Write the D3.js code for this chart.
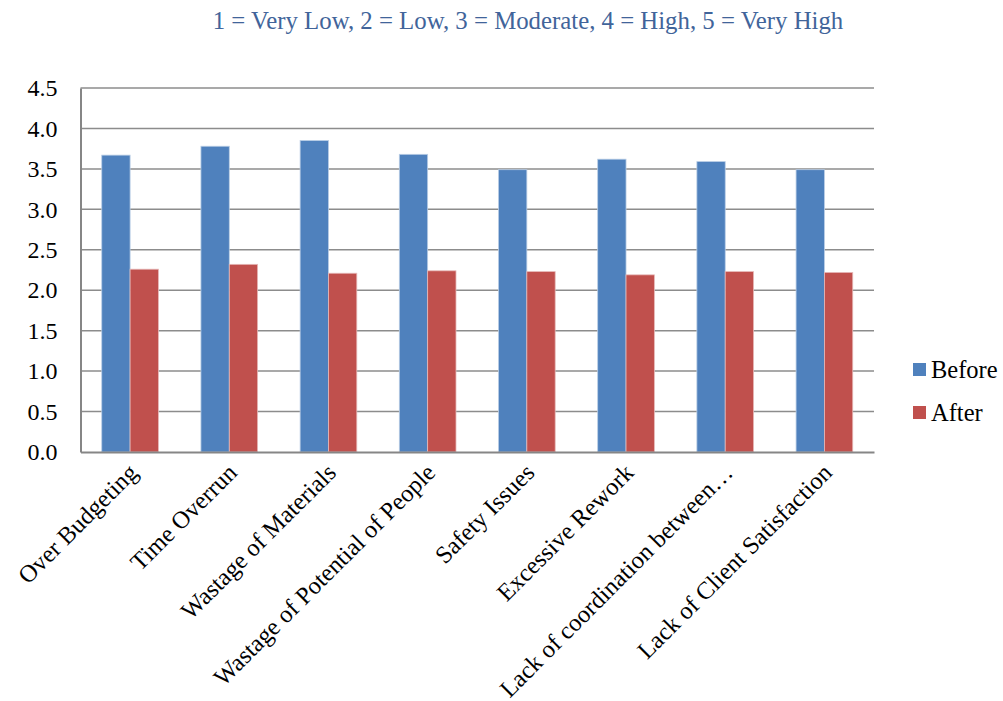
<!DOCTYPE html>
<html>
<head>
<meta charset="utf-8">
<script src="https://cdn.jsdelivr.net/npm/d3@7"></script>
<style>
  html, body { margin: 0; padding: 0; background: #fff; }
  svg { display: block; }
  svg text { font-family: "Liberation Serif", "Times New Roman", serif; }
</style>
</head>
<body>
<svg id="chart" width="1003" height="701"></svg>
<script>
// Problem categories and mean ratings before/after
const categories = [
  "Over Budgeting",
  "Time Overrun",
  "Wastage of Materials",
  "Wastage of Potential of People",
  "Safety Issues",
  "Excessive Rework",
  "Lack of coordination between\u2026",
  "Lack of Client Satisfaction"
];
const seriesNames = ["Before", "After"];
const beforeValues = [3.67, 3.78, 3.85, 3.68, 3.49, 3.62, 3.59, 3.49];
const afterValues  = [2.26, 2.32, 2.21, 2.24, 2.23, 2.19, 2.23, 2.22];
const yTicks = [0, 0.5, 1, 1.5, 2, 2.5, 3, 3.5, 4, 4.5];
const titleText = "1 = Very Low, 2 = Low, 3 = Moderate, 4 = High, 5 = Very High";

const colors = { Before: "#4F81BD", After: "#C0504D" };
const outline = { Before: "#B9CDE5", After: "#E6B9B8" };
const serif = "'Liberation Serif', 'Times New Roman', serif";

const svg = d3.select("#chart");
const plot = { left: 80.5, right: 874, top: 88, bottom: 452 };

const x0 = d3.scaleBand()
  .domain(categories)
  .range([plot.left, plot.right])
  .paddingInner(0)
  .paddingOuter(0);

// 150% gap width: each bar is 1/3.5 of the category band
const barW = x0.bandwidth() / 3.5;
const x1 = d3.scaleBand()
  .domain(seriesNames)
  .range([0, barW * 2]);

const y = d3.scaleLinear().domain([0, 4.5]).range([plot.bottom, plot.top]);

// Title
svg.append("text")
  .attr("x", 528)
  .attr("y", 29)
  .attr("text-anchor", "middle")
  .attr("fill", "#41649A")
  .style("font-family", serif)
  .style("font-size", "24.8px")
  .text(titleText);

// Horizontal gridlines
svg.append("g")
  .selectAll("line")
  .data(yTicks.filter(t => t > 0))
  .join("line")
  .attr("x1", plot.left)
  .attr("x2", plot.right)
  .attr("y1", d => y(d))
  .attr("y2", d => y(d))
  .attr("stroke", "#8C8C8C")
  .attr("stroke-width", 1.5);

// Bars
const rows = categories.map((c, i) => ({ cat: c, Before: beforeValues[i], After: afterValues[i] }));
const groups = svg.append("g")
  .selectAll("g")
  .data(rows)
  .join("g")
  .attr("transform", d => `translate(${x0(d.cat) + (x0.bandwidth() - barW * 2) / 2},0)`);

groups.selectAll("rect")
  .data(d => seriesNames.map(s => ({ s, v: d[s] })))
  .join("rect")
  .attr("x", d => x1(d.s))
  .attr("width", x1.bandwidth())
  .attr("y", d => y(d.v))
  .attr("height", d => y(0) - y(d.v))
  .attr("fill", d => colors[d.s])
  .attr("stroke", d => outline[d.s])
  .attr("stroke-width", 0.8);

// Y axis
const yAxis = d3.axisLeft(y)
  .tickValues(yTicks)
  .tickFormat(d3.format(".1f"))
  .tickSize(0)
  .tickPadding(23);
const yg = svg.append("g")
  .attr("transform", `translate(${plot.left},0)`)
  .call(yAxis);
yg.select(".domain").attr("stroke", "#868686").attr("stroke-width", 2);
yg.selectAll(".tick text")
  .attr("fill", "#000")
  .style("font-family", serif)
  .style("font-size", "24px");

// X axis
const xAxis = d3.axisBottom(x0).tickSize(0).tickSizeOuter(0).tickFormat("");
const xg = svg.append("g")
  .attr("transform", `translate(0,${plot.bottom})`)
  .call(xAxis);
xg.select(".domain").attr("stroke", "#868686").attr("stroke-width", 2);
xg.selectAll(".tick").remove();

// Rotated category labels
svg.append("g")
  .selectAll("text")
  .data(categories)
  .join("text")
  .attr("text-anchor", "end")
  .attr("transform", d => `translate(${x0(d) + x0.bandwidth() / 2 + 3},${plot.bottom + 16}) rotate(-45)`)
  .attr("dy", "0.35em")
  .attr("fill", "#000")
  .style("font-family", serif)
  .style("font-size", "24.5px")
  .text(d => d);

// Legend
const legend = svg.append("g")
  .selectAll("g")
  .data(seriesNames)
  .join("g")
  .attr("transform", (d, i) => `translate(913,${363 + i * 43})`);
legend.append("rect")
  .attr("width", 13)
  .attr("height", 13)
  .attr("fill", d => colors[d]);
legend.append("text")
  .attr("x", 18)
  .attr("y", 15)
  .attr("fill", "#000")
  .style("font-family", serif)
  .style("font-size", "24.5px")
  .text(d => d);
</script>
</body>
</html>
